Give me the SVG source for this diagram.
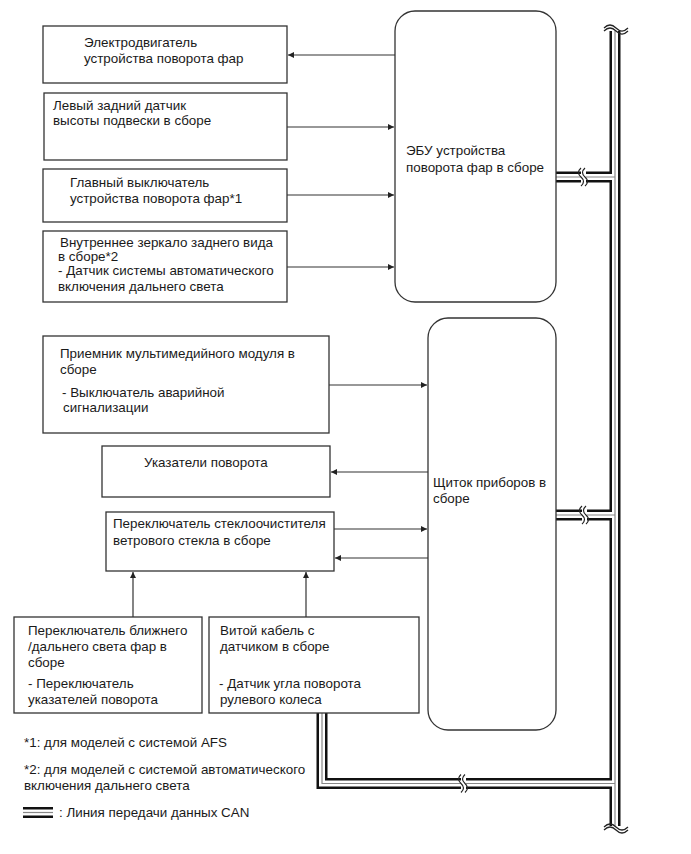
<svg xmlns="http://www.w3.org/2000/svg" width="691" height="854" viewBox="0 0 691 854">
<style>
text{font-family:"Liberation Sans",Arial,sans-serif;font-size:13.4px;fill:#1a1a1a}
.box{fill:#fff;stroke:#333;stroke-width:1.3}
.arr{fill:none;stroke:#333;stroke-width:1.2;marker-end:url(#ah)}
.co{fill:none;stroke:#111;stroke-width:11}
.ci{fill:none;stroke:#fff;stroke-width:6}
.cm{fill:none;stroke:#888;stroke-width:1.2}
.brk{fill:none;stroke:#222;stroke-width:1.2}
.gap{fill:#fff;stroke:none}
</style>
<defs>
<marker id="ah" viewBox="0 0 10 10" refX="10" refY="5" markerWidth="8" markerHeight="6" markerUnits="userSpaceOnUse" orient="auto">
<path d="M0,0 L10,5 L0,10 z" fill="#222"/>
</marker>
</defs>
<rect width="691" height="854" fill="#fff"/>

<g id="connectors">
<path class="arr" d="M395,55 H288"/>
<path class="arr" d="M287,127 H394"/>
<path class="arr" d="M287,195 H394"/>
<path class="arr" d="M287,267 H394"/>
<path class="arr" d="M329,385 H427"/>
<path class="arr" d="M428,472 H331"/>
<path class="arr" d="M334,529 H427"/>
<path class="arr" d="M428,558 H335"/>
<path class="arr" d="M133,617 V572"/>
<path class="arr" d="M306,617 V572"/>
</g>

<g id="can-bus">
<path class="co" d="M615,31 V826"/>
<path class="co" d="M556,177 H615"/>
<path class="co" d="M556,515 H615"/>
<path class="co" d="M322,713 V783.5 H615"/>
<path class="ci" d="M615,31 V826"/>
<path class="ci" d="M556,177 H615"/>
<path class="ci" d="M556,515 H615"/>
<path class="ci" d="M322,713 V783.5 H615"/>
<path class="cm" d="M615,31 V826"/>
<path class="cm" d="M556,177 H615"/>
<path class="cm" d="M556,515 H615"/>
<path class="cm" d="M322,713 V783.5 H615"/>
<rect class="gap" x="581" y="170" width="5" height="14"/>
<path class="brk" d="M581,168 q-5,4.5 0,9 t0,9 M585,168 q-5,4.5 0,9 t0,9"/>
<rect class="gap" x="582" y="508" width="5" height="14"/>
<path class="brk" d="M582,506 q-5,4.5 0,9 t0,9 M586,506 q-5,4.5 0,9 t0,9"/>
<rect class="gap" x="461" y="776.5" width="5" height="14"/>
<path class="brk" d="M461,774.5 q-5,4.5 0,9 t0,9 M465,774.5 q-5,4.5 0,9 t0,9"/>
<rect class="gap" x="603" y="24" width="25" height="6"/>
<path class="brk" d="M604,28 q6,-6 12,0 t12,0 M604,31 q6,-6 12,0 t12,0"/>
<rect class="gap" x="603" y="827" width="25" height="8"/>
<path class="brk" d="M604,827 q6,-6 12,0 t12,0 M604,830 q6,-6 12,0 t12,0"/>
</g>

<g id="ecu">
<rect class="box" x="395" y="11" width="161" height="291" rx="20"/>
<text x="406" y="155">ЭБУ устройства</text>
<text x="406" y="172">поворота фар в сборе</text>
</g>

<g id="cluster">
<rect class="box" x="428" y="318" width="128" height="412" rx="20"/>
<text x="433" y="487">Щиток приборов в</text>
<text x="433" y="503">сборе</text>
</g>

<g id="motor">
<rect class="box" x="43" y="26" width="244" height="57"/>
<text x="84" y="47">Электродвигатель</text>
<text x="84" y="63">устройства поворота фар</text>
</g>

<g id="height-sensor">
<rect class="box" x="44" y="93" width="243" height="67"/>
<text x="53" y="110">Левый задний датчик</text>
<text x="53" y="125">высоты подвески в сборе</text>
</g>

<g id="main-switch">
<rect class="box" x="43" y="169" width="244" height="53"/>
<text x="70" y="187">Главный выключатель</text>
<text x="70" y="203">устройства поворота фар*1</text>
</g>

<g id="mirror">
<rect class="box" x="43" y="231" width="244" height="71"/>
<text x="60" y="247">Внутреннее зеркало заднего вида</text>
<text x="58" y="261">в сборе*2</text>
<text x="58" y="275">- Датчик системы автоматического</text>
<text x="58" y="291">включения дальнего света</text>
</g>

<g id="multimedia">
<rect class="box" x="43" y="336" width="286" height="97"/>
<text x="60" y="358">Приемник мультимедийного модуля в</text>
<text x="60" y="374">сборе</text>
<text x="62" y="397">- Выключатель аварийной</text>
<text x="63" y="412">сигнализации</text>
</g>

<g id="turn-lamps">
<rect class="box" x="102" y="446" width="228" height="51"/>
<text x="144" y="467">Указатели поворота</text>
</g>

<g id="wiper-switch">
<rect class="box" x="106" y="512" width="228" height="59"/>
<text x="113" y="528">Переключатель стеклоочистителя</text>
<text x="113" y="545">ветрового стекла в сборе</text>
</g>

<g id="headlamp-switch">
<rect class="box" x="14" y="617" width="188" height="96"/>
<text x="28" y="635">Переключатель ближнего</text>
<text x="28" y="651">/дальнего света фар в</text>
<text x="28" y="667">сборе</text>
<text x="28" y="688">- Переключатель</text>
<text x="28" y="704">указателей поворота</text>
</g>

<g id="spiral-cable">
<rect class="box" x="209" y="617" width="210" height="96"/>
<text x="220" y="635">Витой кабель с</text>
<text x="220" y="651">датчиком в сборе</text>
<text x="219" y="688">- Датчик угла поворота</text>
<text x="220" y="704">рулевого колеса</text>
</g>

<g id="legend">
<text x="24" y="747">*1: для моделей с системой AFS</text>
<text x="24" y="774">*2: для моделей с системой автоматического</text>
<text x="24" y="790">включения дальнего света</text>
<path class="co" d="M23,812.5 H53" stroke-width="10"/>
<path class="ci" d="M23,812.5 H53" stroke-width="5"/>
<path class="cm" d="M23,812.5 H53"/>
<text x="59" y="817">: Линия передачи данных CAN</text>
</g>
</svg>
